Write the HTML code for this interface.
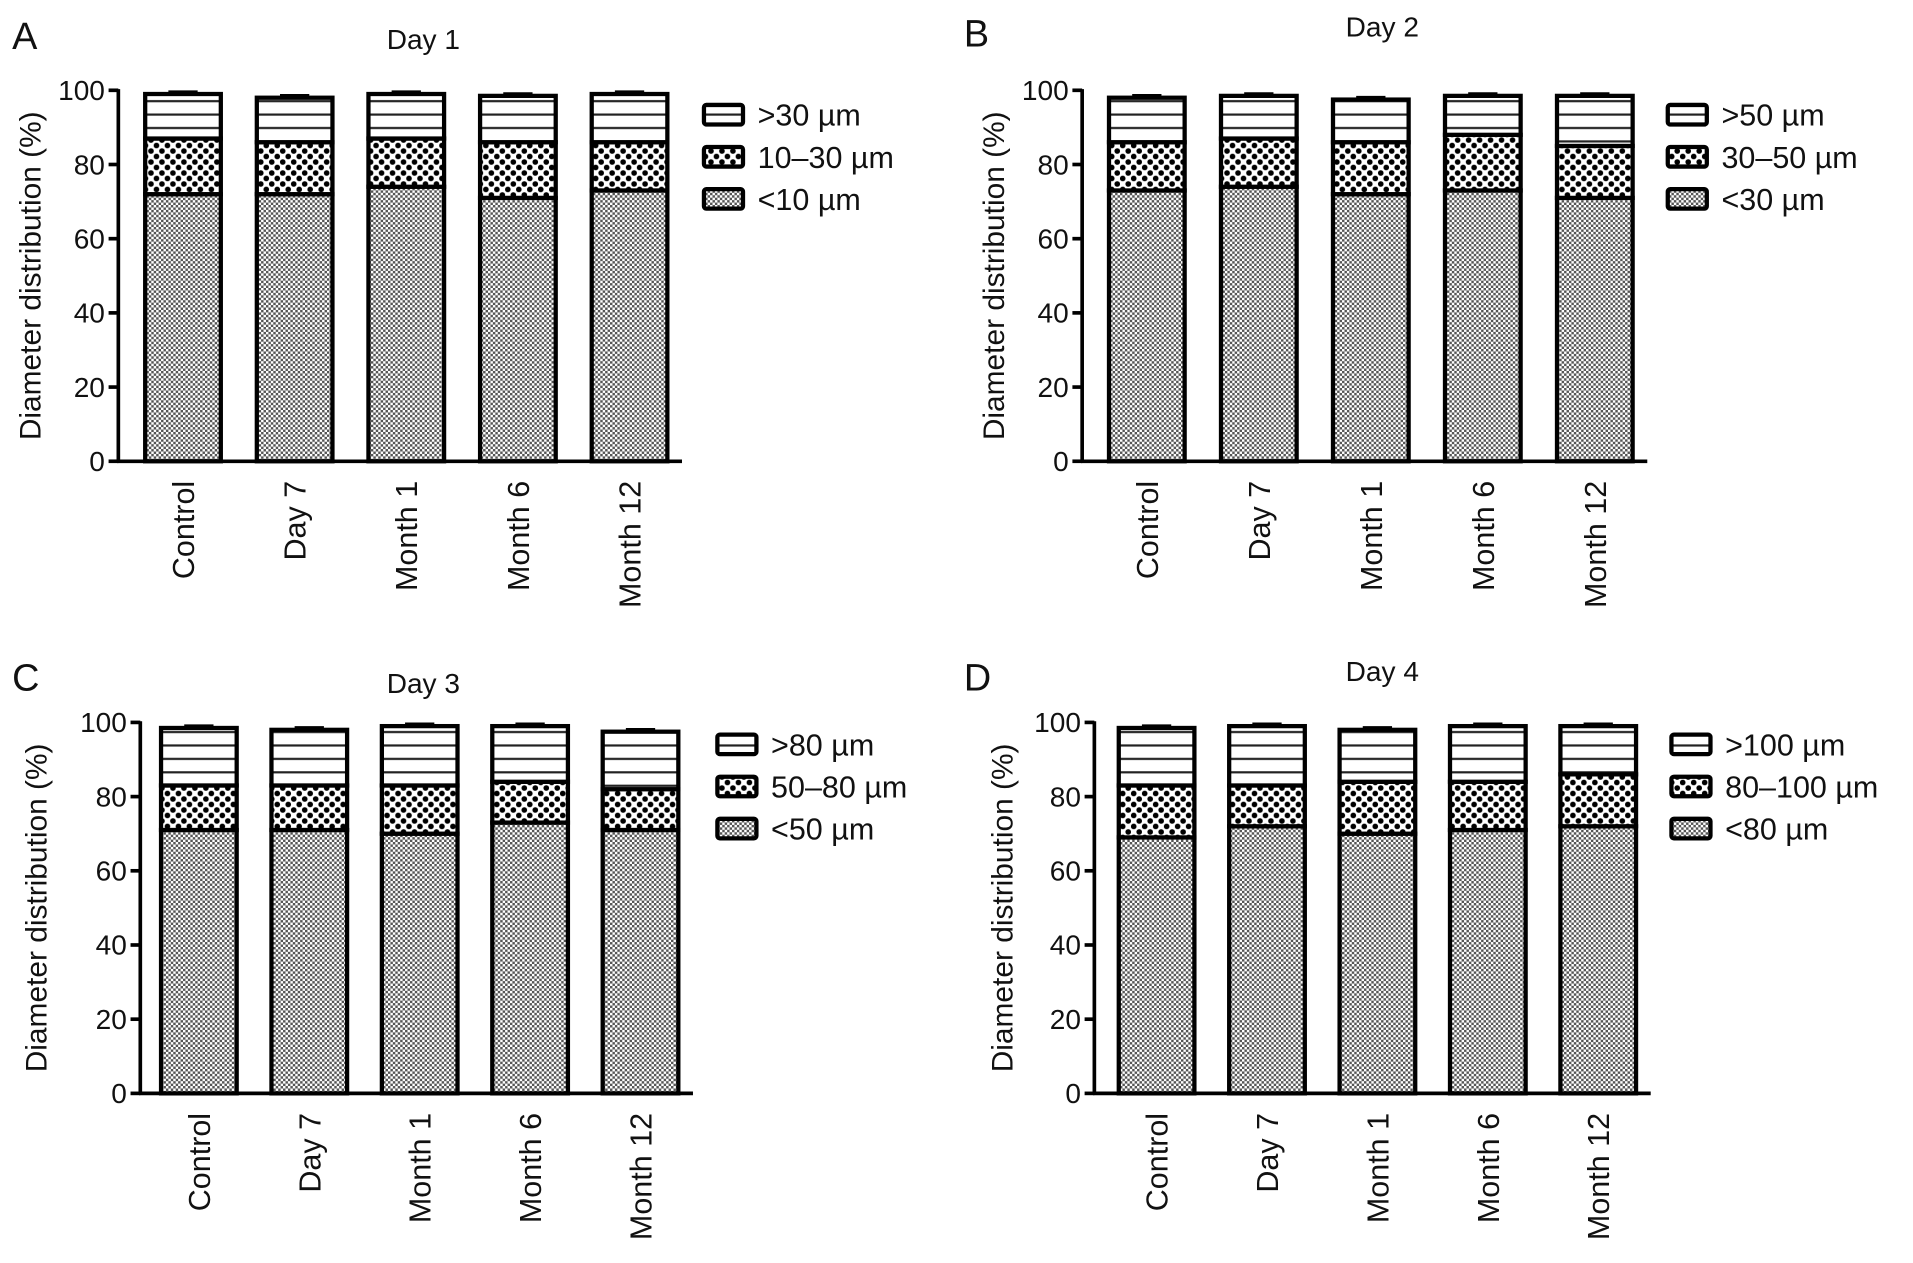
<!DOCTYPE html>
<html><head><meta charset="utf-8"><style>
html,body{margin:0;padding:0;background:#fff}
svg{display:block}
text{font-family:"Liberation Sans",Arial,sans-serif;fill:#111}
</style></head><body>
<svg id="fig" width="1913" height="1263" viewBox="0 0 1568 1035" preserveAspectRatio="none" xmlns="http://www.w3.org/2000/svg">
<defs>
<pattern id="pLow" width="4" height="4" patternUnits="userSpaceOnUse">
<rect width="4" height="4" fill="#fff"/><rect width="2" height="2" fill="#555"/><rect x="2" y="2" width="2" height="2" fill="#555"/>
</pattern>
<pattern id="pMid" width="9" height="9" patternUnits="userSpaceOnUse">
<rect width="9" height="9" fill="#fff"/><circle cx="2.25" cy="2.25" r="2.3" fill="#000"/><circle cx="6.75" cy="6.75" r="2.3" fill="#000"/>
</pattern>
<pattern id="pTop" width="10" height="11" patternUnits="userSpaceOnUse">
<rect width="10" height="11" fill="#fff"/><rect y="5" width="10" height="1.8" fill="#222"/>
</pattern>
</defs>
<g id="root"></g>
</svg>
<script>
const categories = ["Control","Day 7","Month 1","Month 6","Month 12"];
const lowA = [72,72,74,71,73], midA = [87,86,87,86,86], totA = [99,98,99,98.5,99];
const lowB = [73,74,72,73,71], midB = [86,87,86,88,85], totB = [98,98.5,97.5,98.5,98.5];
const lowC = [71,71,70,73,71], midC = [83,83,83,84,82], totC = [98.5,98,99,99,97.5];
const lowD = [69,72,70,71,72], midD = [83,83,84,84,86], totD = [98.5,99,98,99,99];
const yTicks = [0,20,40,60,80,100];
const legA = [">30 µm","10–30 µm","<10 µm"];
const legB = [">50 µm","30–50 µm","<30 µm"];
const legC = [">80 µm","50–80 µm","<50 µm"];
const legD = [">100 µm","80–100 µm","<80 µm"];

const NS="http://www.w3.org/2000/svg";
const root=document.getElementById('root');
function mk(tag,attrs,parent){const e=document.createElementNS(NS,tag);for(const k in attrs)e.setAttribute(k,attrs[k]);(parent||root).appendChild(e);return e;}

const panels=[
 {id:'a',letter:'A',lx:10,ly:40,title:'Day 1',tx:347,ty:40,ax:97,y0:378,y100:74,x0:150,step:91.5,ylab:33,legX:577,legY:94,low:lowA,mid:midA,tot:totA,leg:legA},
 {id:'b',letter:'B',lx:790,ly:38,title:'Day 2',tx:1133,ty:30,ax:887,y0:378,y100:74,x0:940,step:91.8,ylab:823,legX:1367,legY:94,low:lowB,mid:midB,tot:totB,leg:legB},
 {id:'c',letter:'C',lx:10,ly:566,title:'Day 3',tx:347,ty:568,ax:115,y0:896,y100:592,x0:163,step:90.5,ylab:38,legX:588,legY:610,low:lowC,mid:midC,tot:totC,leg:legC},
 {id:'d',letter:'D',lx:790,ly:566,title:'Day 4',tx:1133,ty:558,ax:897,y0:896,y100:592,x0:948,step:90.5,ylab:830,legX:1370,legY:610,low:lowD,mid:midD,tot:totD,leg:legD}
];
const BW=62;
panels.forEach(p=>{
 const g=mk('g',{});
 
 
 const yS=v=>p.y0-(v/100)*(p.y0-p.y100);
 const xS=i=>p.x0+i*p.step;
 let t=mk('text',{x:p.lx,y:p.ly,'font-size':31},g);t.textContent=p.letter;
 
 t=mk('text',{x:p.tx,y:p.ty,'font-size':23,'text-anchor':'middle'},g);t.textContent=p.title;
 
 const cy=(p.y0+p.y100)/2;
 t=mk('text',{x:p.ylab,y:cy,'font-size':24.5,'text-anchor':'middle',transform:`rotate(-90 ${p.ylab} ${cy})`},g);t.textContent='Diameter distribution (%)';
 
 categories.forEach((c,i)=>{
  const x=xS(i)-BW/2;
  const segs=[[0,p.low[i],'url(#pLow)'],[p.low[i],p.mid[i],'url(#pMid)'],[p.mid[i],p.tot[i],'url(#pTop)']];
  segs.forEach((s,k)=>{
   const r=mk('rect',{x:x,y:yS(s[1]),width:BW,height:yS(s[0])-yS(s[1]),fill:s[2],stroke:'#000','stroke-width':3.5},g);
   
   
   if(k>0){const e=mk('line',{x1:xS(i)-12,x2:xS(i)+12,y1:yS(s[1])-1.5,y2:yS(s[1])-1.5,stroke:'#000','stroke-width':3},g);
    }
  });
  const lb=mk('text',{x:0,y:0,'font-size':25,'text-anchor':'end',transform:`translate(${xS(i)+9},${p.y0+16}) rotate(-90)`},g);
  lb.textContent=c;
  
 });
 let a=mk('line',{x1:p.ax,x2:p.ax,y1:p.y100-1,y2:p.y0+1,stroke:'#000','stroke-width':3},g);
 
 a=mk('line',{x1:p.ax-1,x2:xS(4)+BW/2+12,y1:p.y0,y2:p.y0,stroke:'#000','stroke-width':3},g);
 
 yTicks.forEach(v=>{
  const tk=mk('line',{x1:p.ax-8,x2:p.ax,y1:yS(v),y2:yS(v),stroke:'#000','stroke-width':3},g);
  
  const tl=mk('text',{x:p.ax-11,y:yS(v)+8,'font-size':23,'text-anchor':'end'},g);tl.textContent=v;
  
 });
 const fills=['url(#pTop)','url(#pMid)','url(#pLow)'];
 p.leg.forEach((L,k)=>{
  const yy=p.legY+k*34.5;
  const le=mk('g',{},g);
  
  mk('rect',{x:p.legX,y:yy-8,width:32,height:16,rx:2,fill:fills[k],stroke:'#000','stroke-width':3.5},le);
  const lt=mk('text',{x:p.legX+44,y:yy+9,'font-size':25},le);lt.textContent=L;
 });
});
</script>
</body></html>
